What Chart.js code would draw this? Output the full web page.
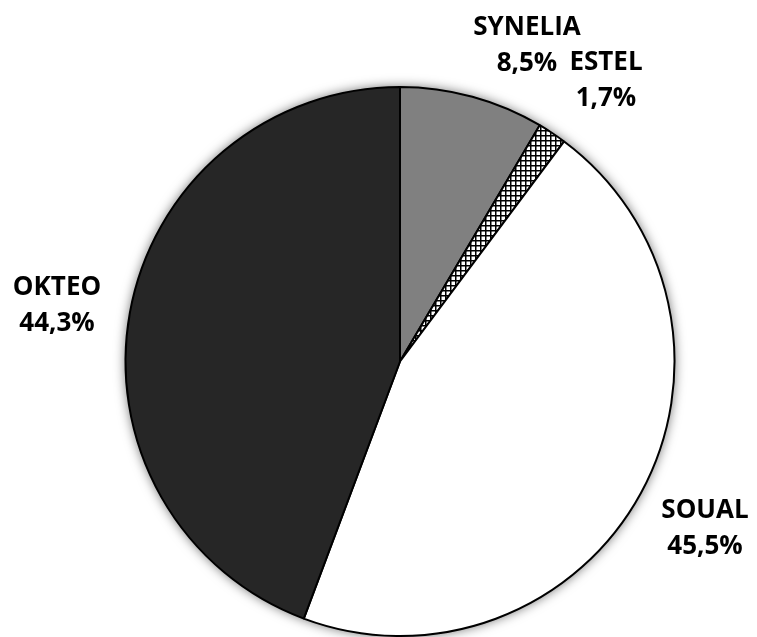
<!DOCTYPE html>
<html>
<head>
<meta charset="utf-8">
<script src="https://cdn.jsdelivr.net/npm/chart.js@4/dist/chart.umd.min.js"></script>
<style>
    html, body { margin: 0; padding: 0; background: #ffffff; }
    #wrap { width: 757px; height: 637px; position: relative; }
</style>
</head>
<body>
<div id="wrap"><canvas id="pieChart"></canvas></div>
<script>
const labels = ['SYNELIA', 'ESTEL', 'SOUAL', 'OKTEO'];
const values = [8.5, 1.7, 45.5, 44.3];
const valueLabels = ['8,5%', '1,7%', '45,5%', '44,3%'];

// label block centres, relative to the pie centre
const labelOffsets = [[127, -316], [206, -281], [305, 167], [-343, -56]];

function hatchPattern() {
    const c = document.createElement('canvas');
    c.width = 5;
    c.height = 5;
    const p = c.getContext('2d');
    p.fillStyle = '#ffffff';
    p.fillRect(0, 0, 5, 5);
    p.fillStyle = '#000000';
    p.fillRect(0, 0, 5, 1.5);
    p.fillRect(0, 0, 1.5, 5);
    return p.createPattern(c, 'repeat');
}

document.addEventListener('DOMContentLoaded', function() {
    const ctx = document.getElementById('pieChart').getContext('2d');

    const shadowPlugin = {
        id: 'shadow',
        beforeDatasetsDraw(chart) {
            const arc = chart.getDatasetMeta(0).data[0];
            if (!arc) return;
            const c = chart.ctx;
            c.save();
            c.shadowColor = 'rgba(0,0,0,0.6)';
            c.shadowBlur = 12;
            c.fillStyle = '#ffffff';
            c.beginPath();
            c.arc(arc.x, arc.y, arc.outerRadius, 0, Math.PI * 2);
            c.fill();
            c.restore();
        }
    };

    const labelPlugin = {
        id: 'sliceLabels',
        afterDatasetsDraw(chart) {
            const arc = chart.getDatasetMeta(0).data[0];
            const c = chart.ctx;
            c.save();
            c.fillStyle = '#000000';
            c.font = 'bold 26px "Open Sans"';
            c.textAlign = 'center';
            c.textBaseline = 'middle';
            labels.forEach(function(name, i) {
                const x = arc.x + labelOffsets[i][0];
                const y = arc.y + labelOffsets[i][1];
                c.fillText(name, x, y - 18);
                c.fillText(valueLabels[i], x, y + 18);
            });
            c.restore();
        }
    };

    new Chart(ctx, {
        type: 'pie',
        data: {
            labels: labels,
            datasets: [{
                data: values,
                backgroundColor: ['#808080', hatchPattern(), '#ffffff', '#262626'],
                borderColor: '#000000',
                borderWidth: 2
            }]
        },
        options: {
            responsive: true,
            maintainAspectRatio: false,
            animation: false,
            layout: {
                padding: { top: 86, bottom: 0, left: 124, right: 81 }
            },
            plugins: {
                legend: { display: false },
                tooltip: { enabled: false }
            }
        },
        plugins: [shadowPlugin, labelPlugin]
    });
});
</script>
</body>
</html>
